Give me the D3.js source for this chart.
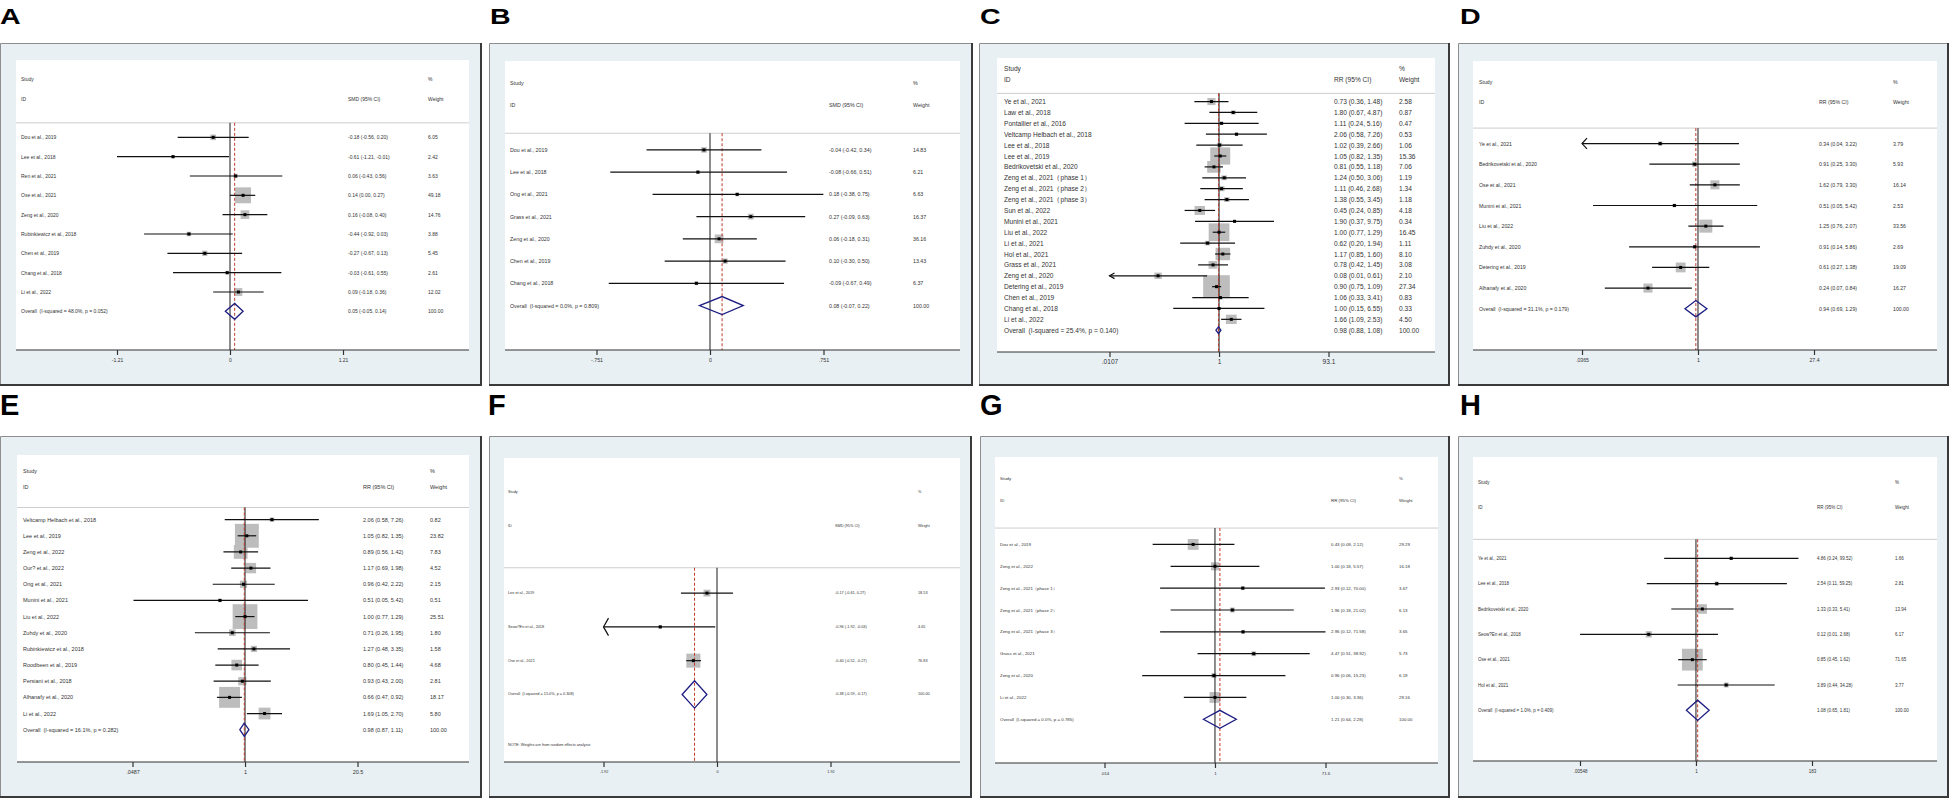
<!DOCTYPE html>
<html>
<head>
<meta charset="utf-8">
<script src="https://cdn.jsdelivr.net/npm/d3@7"></script>
<style>
  body { margin: 0; background: #fff; }
  svg { display: block; }
  text { font-family: "Liberation Sans", Arial, sans-serif; }
</style>
</head>
<body>
<svg id="fig" width="1949" height="798"></svg>
<script>
// ---- A : SMD ------------------------------------------------------
const studiesA = ['Dou et al., 2019','Lee et al., 2018','Ren et al., 2021','Ose et al., 2021',
  'Zeng et al., 2020','Rubinkiewicz et al., 2018','Chen et al., 2019','Chang et al., 2018','Li et al., 2022'];
const estA = [-0.18,-0.61,0.06,0.14,0.16,-0.44,-0.27,-0.03,0.09];
const loA  = [-0.56,-1.21,-0.43,0.00,-0.08,-0.92,-0.67,-0.61,-0.18];
const hiA  = [0.20,-0.01,0.56,0.27,0.40,0.03,0.13,0.55,0.36];
const wtA  = [6.05,2.42,3.63,49.18,14.76,3.88,5.45,2.61,12.02];
const overallA = [0.05,-0.05,0.14];
const hetA = [48.0,0.052];
const ticksA = [-1.21,0,1.21];
const tickLabelsA = ['-1.21','0','1.21'];

// ---- B : SMD ------------------------------------------------------
const studiesB = ['Dou et al., 2019','Lee et al., 2018','Ong et al., 2021','Grass et al., 2021',
  'Zeng et al., 2020','Chen et al., 2019','Chang et al., 2018'];
const estB = [-0.04,-0.08,0.18,0.27,0.06,0.10,-0.09];
const loB  = [-0.42,-0.66,-0.38,-0.09,-0.18,-0.30,-0.67];
const hiB  = [0.34,0.51,0.75,0.63,0.31,0.50,0.49];
const wtB  = [14.83,6.21,6.63,16.37,36.16,13.43,6.37];
const overallB = [0.08,-0.07,0.22];
const hetB = [0.0,0.809];
const ticksB = [-0.751,0,0.751];
const tickLabelsB = ['-.751','0','.751'];

// ---- C : RR -------------------------------------------------------
const studiesC = ['Ye et al., 2021','Law et al., 2018','Pontallier et al., 2016','Veltcamp Helbach et al., 2018',
  'Lee et al., 2018','Lee et al., 2019','Bedrikovetski et al., 2020','Zeng et al., 2021（phase 1）',
  'Zeng et al., 2021（phase 2）','Zeng et al., 2021（phase 3）','Sun et al., 2022','Munini et al., 2021',
  'Liu et al., 2022','Li et al., 2021','Hol et al., 2021','Grass et al., 2021','Zeng et al., 2020',
  'Detering et al., 2019','Chen et al., 2019','Chang et al., 2018','Li et al., 2022'];
const estC = [0.73,1.80,1.11,2.06,1.02,1.05,0.81,1.24,1.11,1.38,0.45,1.90,1.00,0.62,1.17,0.78,0.08,0.90,1.06,1.00,1.66];
const loC  = [0.36,0.67,0.24,0.58,0.39,0.82,0.55,0.50,0.46,0.55,0.24,0.37,0.77,0.20,0.85,0.42,0.0105,0.75,0.33,0.15,1.09];
const hiC  = [1.48,4.87,5.16,7.26,2.66,1.35,1.18,3.06,2.68,3.45,0.85,9.75,1.29,1.94,1.60,1.45,0.61,1.09,3.41,6.55,2.53];
const wtC  = [2.58,0.87,0.47,0.53,1.06,15.36,7.06,1.19,1.34,1.18,4.18,0.34,16.45,1.11,8.10,3.08,2.10,27.34,0.83,0.33,4.50];
const overallC = [0.98,0.88,1.08];
const hetC = [25.4,0.140];
const ticksC = [0.0107,1,93.1];
const tickLabelsC = ['.0107','1','93.1'];

// ---- D : RR -------------------------------------------------------
const studiesD = ['Ye et al., 2021','Bedrikovetski et al., 2020','Ose et al., 2021','Munini et al., 2021',
  'Liu et al., 2022','Zuhdy et al., 2020','Detering et al., 2019','Alhanafy et al., 2020'];
const estD = [0.34,0.91,1.62,0.51,1.25,0.91,0.61,0.24];
const loD  = [0.0362,0.25,0.79,0.05,0.76,0.14,0.27,0.07];
const hiD  = [3.22,3.30,3.30,5.42,2.07,5.86,1.38,0.84];
const wtD  = [3.79,5.93,16.14,2.53,33.56,2.69,19.09,16.27];
const overallD = [0.94,0.69,1.29];
const hetD = [31.1,0.179];
const ticksD = [0.0365,1,27.4];
const tickLabelsD = ['.0365','1','27.4'];

// ---- E : RR -------------------------------------------------------
const studiesE = ['Veltcamp Helbach et al., 2018','Lee et al., 2019','Zeng et al., 2022','Our? et al., 2022',
  'Ong et al., 2021','Munini et al., 2021','Liu et al., 2022','Zuhdy et al., 2020','Rubinkiewicz et al., 2018',
  'Roodbeen et al., 2019','Persiani et al., 2018','Alhanafy et al., 2020','Li et al., 2022'];
const estE = [2.06,1.05,0.89,1.17,0.96,0.51,1.00,0.71,1.27,0.80,0.93,0.66,1.69];
const loE  = [0.58,0.82,0.56,0.69,0.42,0.05,0.77,0.26,0.48,0.45,0.43,0.47,1.05];
const hiE  = [7.26,1.35,1.42,1.98,2.22,5.42,1.29,1.95,3.35,1.44,2.00,0.92,2.70];
const wtE  = [0.82,23.82,7.83,4.52,2.15,0.51,25.51,1.80,1.58,4.68,2.81,18.17,5.80];
const overallE = [0.98,0.87,1.11];
const hetE = [16.1,0.282];
const ticksE = [0.0487,1,20.5];
const tickLabelsE = ['.0487','1','20.5'];

// ---- F : SMD ------------------------------------------------------
const studiesF = ['Lee et al., 2019','Seow?En et al., 2018','Ose et al., 2021'];
const estF = [-0.17,-0.96,-0.40];
const loF  = [-0.61,-1.924,-0.52];
const hiF  = [0.27,-0.03,-0.27];
const wtF  = [18.53,4.65,76.83];
const overallF = [-0.38,-0.59,-0.17];
const hetF = [15.0,0.308];
const ticksF = [-1.92,0,1.92];
const tickLabelsF = ['-1.92','0','1.92'];
const noteF = 'NOTE: Weights are from random effects analysis';

// ---- G : RR -------------------------------------------------------
const studiesG = ['Dou et al., 2019','Zeng et al., 2022','Zeng et al., 2021（phase 1）','Zeng et al., 2021（phase 2）',
  'Zeng et al., 2021（phase 3）','Grass et al., 2021','Zeng et al., 2020','Li et al., 2022'];
const estG = [0.43,1.00,2.93,1.96,2.96,4.47,0.96,1.00];
const loG  = [0.09,0.18,0.12,0.18,0.12,0.51,0.06,0.30];
const hiG  = [2.12,5.57,70.00,21.02,71.58,38.92,15.23,3.36];
const wtG  = [29.29,16.18,3.67,6.13,3.65,5.73,6.19,29.16];
const overallG = [1.21,0.64,2.28];
const hetG = [0.0,0.785];
const ticksG = [0.014,1,71.6];
const tickLabelsG = ['.014','1','71.6'];

// ---- H : RR -------------------------------------------------------
const studiesH = ['Ye et al., 2021','Lee et al., 2018','Bedrikovetski et al., 2020','Seow?En et al., 2018',
  'Ose et al., 2021','Hol et al., 2021'];
const estH = [4.86,2.54,1.33,0.12,0.85,3.89];
const loH  = [0.24,0.11,0.33,0.0055,0.45,0.44];
const hiH  = [99.52,59.25,5.41,2.68,1.62,34.28];
const wtH  = [1.66,2.81,13.94,6.17,71.65,3.77];
const overallH = [1.08,0.65,1.81];
const hetH = [1.0,0.409];
const ticksH = [0.00548,1,183];
const tickLabelsH = ['.00548','1','183'];

const panels = [
  { id:'A', log:false, stat:'SMD', studies:studiesA, est:estA, lo:loA, hi:hiA, wt:wtA, overall:overallA, het:hetA, ticks:ticksA, tickLabels:tickLabelsA },
  { id:'B', log:false, stat:'SMD', studies:studiesB, est:estB, lo:loB, hi:hiB, wt:wtB, overall:overallB, het:hetB, ticks:ticksB, tickLabels:tickLabelsB },
  { id:'C', log:true,  stat:'RR',  studies:studiesC, est:estC, lo:loC, hi:hiC, wt:wtC, overall:overallC, het:hetC, ticks:ticksC, tickLabels:tickLabelsC },
  { id:'D', log:true,  stat:'RR',  studies:studiesD, est:estD, lo:loD, hi:hiD, wt:wtD, overall:overallD, het:hetD, ticks:ticksD, tickLabels:tickLabelsD },
  { id:'E', log:true,  stat:'RR',  studies:studiesE, est:estE, lo:loE, hi:hiE, wt:wtE, overall:overallE, het:hetE, ticks:ticksE, tickLabels:tickLabelsE },
  { id:'F', log:false, stat:'SMD', studies:studiesF, est:estF, lo:loF, hi:hiF, wt:wtF, overall:overallF, het:hetF, ticks:ticksF, tickLabels:tickLabelsF, note:noteF },
  { id:'G', log:true,  stat:'RR',  studies:studiesG, est:estG, lo:loG, hi:hiG, wt:wtG, overall:overallG, het:hetG, ticks:ticksG, tickLabels:tickLabelsG },
  { id:'H', log:true,  stat:'RR',  studies:studiesH, est:estH, lo:loH, hi:hiH, wt:wtH, overall:overallH, het:hetH, ticks:ticksH, tickLabels:tickLabelsH },
];

// page layout of each panel (outer frame, white plot box, axis centre/half span,
// text columns, font size, box scale)
const layout = {
  A: { o:[0,43,481,385],    x0:16,   y0:60,  x1:469,  axisY:350, cx:230,  half:113,   tx:21,   cix:348,  wx:428,  fs:5.0, k:2.27, asp:1,    dh:0.82 },
  B: { o:[489,43,972,385],  x0:505,  y0:61,  x1:960,  axisY:350, cx:710,  half:113.5, tx:510,  cix:829,  wx:913,  fs:5.3, k:1.45, asp:1,    dh:0.81 },
  C: { o:[979,43,1449,385], x0:997,  y0:58,  x1:1435, axisY:352, cx:1219, half:109.5, tx:1004, cix:1334, wx:1399, fs:6.6, k:5.1,  asp:0.86, dh:0.62 },
  D: { o:[1458,43,1948,385],x0:1473, y0:61,  x1:1937, axisY:350, cx:1698, half:116,   tx:1479, cix:1819, wx:1893, fs:5.2, k:2.25, asp:1,    dh:0.79 },
  E: { o:[0,436,481,797],   x0:17,   y0:455, x1:469,  axisY:762, cx:245,  half:112.5, tx:23,   cix:363,  wx:430,  fs:5.5, k:4.9,  asp:1,    dh:0.82 },
  F: { o:[489,436,971,797], x0:504,  y0:458, x1:960,  axisY:762, cx:717,  half:113.5, tx:508,  cix:835,  wx:918,  fs:3.8, k:1.6,  asp:1,    dh:0.81 },
  G: { o:[980,436,1449,797],x0:995,  y0:457, x1:1438, axisY:763, cx:1215, half:110.5, tx:1000, cix:1331, wx:1399, fs:4.4, k:2.0,  asp:1,    dh:0.82 },
  H: { o:[1458,436,1948,797],x0:1473,y0:457, x1:1937, axisY:761, cx:1696, half:116,   tx:1478, cix:1817, wx:1895, fs:4.5, k:2.45, asp:1.05, dh:0.8 },
};

const letterPos = {
  A:[0,24,1], B:[490,24,1], C:[980,24,1], D:[1460,24,1],
  E:[0,415,2], F:[488,415,2], G:[980,415,2], H:[1460,415,2]
};

const f2 = v => v.toFixed(2);
const svg = d3.select('#fig');

function drawPanel(P, L) {
  const g = svg.append('g');
  const n = P.studies.length + 1;
  const u = (L.axisY - L.y0) / (n + 5);
  const row = i => L.y0 + (4 + i) * u;
  const lineTop = L.y0 + 3.25 * u;
  const dmin = P.ticks[0], dmax = P.ticks[P.ticks.length - 1];
  const sx = (P.log ? d3.scaleLog() : d3.scaleLinear())
    .domain([dmin, dmax]).range([L.cx - L.half, L.cx + L.half]);

  // frame ==========================================================
  const [ox0, oy0, ox1, oy1] = L.o;
  g.append('rect').attr('x', ox0).attr('y', oy0)
    .attr('width', ox1 - ox0).attr('height', oy1 - oy0).attr('fill', '#e8f0f3');
  g.append('path').attr('d', `M${ox0+0.5},${oy1}V${oy0+0.5}H${ox1}`)
    .attr('fill', 'none').attr('stroke', '#8e8e8e').attr('stroke-width', 1);
  g.append('path').attr('d', `M${ox1},${oy0}V${oy1}H${ox0}`)
    .attr('fill', 'none').attr('stroke', '#3a3a3a').attr('stroke-width', 2);
  g.append('rect').attr('x', L.x0).attr('y', L.y0)
    .attr('width', L.x1 - L.x0).attr('height', L.axisY - L.y0).attr('fill', '#fff');

  const txt = (x, y, s) => g.append('text')
    .attr('x', x).attr('y', y).attr('dominant-baseline', 'central')
    .attr('font-size', L.fs).attr('fill', '#333').style('white-space', 'pre').text(s);

  // header =========================================================
  txt(L.tx, L.y0 + u, 'Study');
  txt(L.tx, L.y0 + 2 * u, 'ID');
  txt(L.cix, L.y0 + 2 * u, `${P.stat} (95% CI)`);
  txt(L.wx, L.y0 + u, '%');
  txt(L.wx, L.y0 + 2 * u, 'Weight');
  g.append('line').attr('x1', L.x0).attr('x2', L.x1)
    .attr('y1', lineTop).attr('y2', lineTop)
    .attr('stroke', '#cdcdcd').attr('stroke-width', 1);

  // weight boxes ===================================================
  g.append('g').attr('fill', '#bdbdbd').selectAll('rect').data(P.est).join('rect')
    .attr('x', (d, i) => sx(d) - L.k * Math.sqrt(P.wt[i]) / 2)
    .attr('y', (d, i) => row(i) - L.k * Math.sqrt(P.wt[i]) * L.asp / 2)
    .attr('width', (d, i) => L.k * Math.sqrt(P.wt[i]))
    .attr('height', (d, i) => L.k * Math.sqrt(P.wt[i]) * L.asp);

  // null line + overall line =======================================
  const x0line = sx(P.log ? 1 : 0);
  g.append('line').attr('x1', x0line).attr('x2', x0line)
    .attr('y1', lineTop).attr('y2', L.axisY)
    .attr('stroke', '#1a1a1a').attr('stroke-width', 1);
  const xo = sx(P.overall[0]);
  g.append('line').attr('x1', xo).attr('x2', xo)
    .attr('y1', lineTop).attr('y2', L.axisY)
    .attr('stroke', '#c0392b').attr('stroke-width', 1).attr('stroke-dasharray', '3,2');

  // CIs ============================================================
  const ci = g.append('g').attr('stroke', '#111').attr('stroke-width', 1.2).attr('fill', 'none');
  ci.selectAll('line').data(P.est).join('line')
    .attr('x1', (d, i) => sx(Math.max(P.lo[i], dmin)))
    .attr('x2', (d, i) => sx(Math.min(P.hi[i], dmax)))
    .attr('y1', (d, i) => row(i)).attr('y2', (d, i) => row(i));
  P.est.forEach((d, i) => {
    const av = 0.26 * u, ah = 5;
    if (P.lo[i] < dmin - 1e-9) {
      const x = sx(dmin), y = row(i);
      ci.append('path').attr('d', `M${x+ah},${y-av}L${x},${y}L${x+ah},${y+av}`);
    }
    if (P.hi[i] > dmax + 1e-9) {
      const x = sx(dmax), y = row(i);
      ci.append('path').attr('d', `M${x-ah},${y-av}L${x},${y}L${x-ah},${y+av}`);
    }
  });
  g.append('g').attr('fill', '#000').selectAll('rect').data(P.est).join('rect')
    .attr('x', d => sx(d) - 1.5).attr('y', (d, i) => row(i) - 1.5)
    .attr('width', 3).attr('height', 3);

  // overall diamond ================================================
  const yo = row(P.studies.length), hd = L.dh * u / 2;
  const [oe, ol, oh] = P.overall;
  g.append('path')
    .attr('d', `M${sx(ol)},${yo}L${sx(oe)},${yo-hd}L${sx(oh)},${yo}L${sx(oe)},${yo+hd}Z`)
    .attr('fill', 'none').attr('stroke', '#1d1d82').attr('stroke-width', 1.3);

  // row texts ======================================================
  P.studies.forEach((s, i) => {
    txt(L.tx, row(i), s);
    txt(L.cix, row(i), `${f2(P.est[i])} (${f2(P.lo[i])}, ${f2(P.hi[i])})`);
    txt(L.wx, row(i), f2(P.wt[i]));
  });
  txt(L.tx, yo, `Overall  (I-squared = ${P.het[0].toFixed(1)}%, p = ${P.het[1].toFixed(3)})`);
  txt(L.cix, yo, `${f2(oe)} (${f2(ol)}, ${f2(oh)})`);
  txt(L.wx, yo, '100.00');
  if (P.note) txt(L.tx, L.y0 + (n + 4.5) * u, P.note);

  // axis ===========================================================
  g.append('line').attr('x1', L.x0).attr('x2', L.x1)
    .attr('y1', L.axisY).attr('y2', L.axisY)
    .attr('stroke', '#333').attr('stroke-width', 1.2);
  const ax = d3.axisBottom(sx).tickValues(P.ticks)
    .tickFormat((d, i) => P.tickLabels[i])
    .tickSize(5).tickPadding(10 - 5 - 0.36 * L.fs);
  const ag = g.append('g').attr('transform', `translate(0,${L.axisY})`).call(ax);
  ag.select('.domain').remove();
  ag.attr('font-size', L.fs).attr('font-family', '"Liberation Sans", Arial, sans-serif')
    .style('color', '#333');
  ag.selectAll('.tick line').attr('stroke-width', 1.2);
}

panels.forEach(P => drawPanel(P, layout[P.id]));

// panel letters ======================================================
svg.append('g').selectAll('text').data(panels).join('text')
  .attr('transform', p => {
    const [x, y, r] = letterPos[p.id];
    return r === 1 ? `translate(${x},${y}) scale(1.3,1)` : `translate(${x},${y})`;
  })
  .attr('font-size', p => letterPos[p.id][2] === 1 ? 22 : 29)
  .attr('font-weight', 'bold').attr('fill', '#000')
  .text(p => p.id);
</script>
</body>
</html>
